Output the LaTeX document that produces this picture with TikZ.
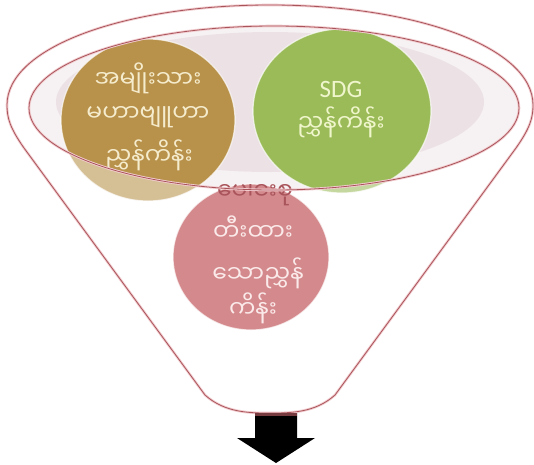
\documentclass[tikz,border=0pt]{standalone}
\usepackage{fontspec}
\newfontfamily\mmfont[Script=Myanmar]{Noto Sans Myanmar UI}
\newfontfamily\latfont{Carlito}
\definecolor{rimline}{HTML}{A9545A}
\definecolor{rimglow}{HTML}{F2CDD0}
\definecolor{innerlight}{HTML}{F6F1F2}
\definecolor{innerdark}{HTML}{ECE2E5}
\definecolor{brownc}{HTML}{B8914A}
\definecolor{greenc}{HTML}{9BBB59}
\definecolor{pinkc}{HTML}{D4898C}
\definecolor{browntxt}{HTML}{F5ECCD}
\definecolor{greentxt}{HTML}{F0F6CC}
\definecolor{pinktxt}{HTML}{FBEAEA}
\begin{document}
\begin{tikzpicture}[x=1pt,y=-1pt,
  mmtext/.style={inner sep=0pt, font=\mmfont\fontsize{23.5}{26}\selectfont},
  edgering/.style={draw=white, draw opacity=0.7, line width=1.2pt},
  rimglowline/.style={draw=rimglow, line width=2.6pt},
  rimthin/.style={draw=rimline, line width=0.8pt}]
\useasboundingbox (0,0) rectangle (534,464);
\def\funnelpath{(205,395) -- (24,148) .. controls (10,128) and (7,118) .. (7,105)
  .. controls (7,47) and (125,5) .. (270,5)
  .. controls (415,5) and (533,47) .. (533,105)
  .. controls (533,118) and (530,128) .. (516,148) -- (335,395)
  .. controls (315,413) and (290,413) .. (270,413)
  .. controls (250,413) and (225,413) .. (205,395) -- cycle}
% funnel body and opening
\fill[white] \funnelpath;
\fill[innerlight] (274,108) ellipse[x radius=245, y radius=82];
\fill[innerdark] (270,102) ellipse[x radius=214, y radius=70];
% circles in the opening
\fill[brownc] (148,120) ellipse[x radius=87, y radius=81];
\draw[edgering] (148,120) ellipse[x radius=87, y radius=81];
\fill[greenc] (342,111) ellipse[x radius=89, y radius=82];
\draw[edgering] (342,111) ellipse[x radius=89, y radius=82];
% translucent funnel body over the circles
\fill[white, opacity=0.42, even odd rule] \funnelpath (274,108) ellipse[x radius=245, y radius=82];
% front circle
\fill[pinkc] (251,257) ellipse[x radius=78, y radius=73];
\draw[edgering] (251,257) ellipse[x radius=78, y radius=73];
% texts
\node[mmtext, text=browntxt] (b1) at (148,78) {အမျိုးသား};
\node[mmtext, text=browntxt] (b2) at (148,117) {မဟာဗျူဟာ};
\node[mmtext, text=browntxt] (b3) at (149,155) {ညွှန်ကိန်း};
\node[inner sep=0pt, text=greentxt, font=\latfont\fontsize{25}{28}\selectfont] (g1) at (341,89) {SDG};
\node[mmtext, text=greentxt] (g2) at (341,122) {ညွှန်ကိန်း};
\begin{scope}
  \clip (150,184) rectangle (360,214);
  \node[mmtext, text=rimline] (p0) at (255,190) {ပေါင်းစု};
\end{scope}
\node[mmtext, text=pinktxt] (p1) at (253,228) {တီးထား};
\node[mmtext, text=pinktxt] (p2) at (258,273) {သောညွှန်};
\node[mmtext, text=pinktxt] (p3) at (253,308) {ကိန်း};
% outlines
\draw[rimglowline] \funnelpath;
\draw[rimglowline] (274,108) ellipse[x radius=245, y radius=82];
\draw[rimthin] \funnelpath;
\draw[rimthin] (274,108) ellipse[x radius=245, y radius=82];
% down arrow
\fill[black] (255,413) -- (297,413) -- (297,438) -- (315,438) -- (276,463) -- (237,438) -- (255,438) -- cycle;
\fill[rimline!70!black] (255,413) rectangle (297,416);
\end{tikzpicture}
\end{document}
